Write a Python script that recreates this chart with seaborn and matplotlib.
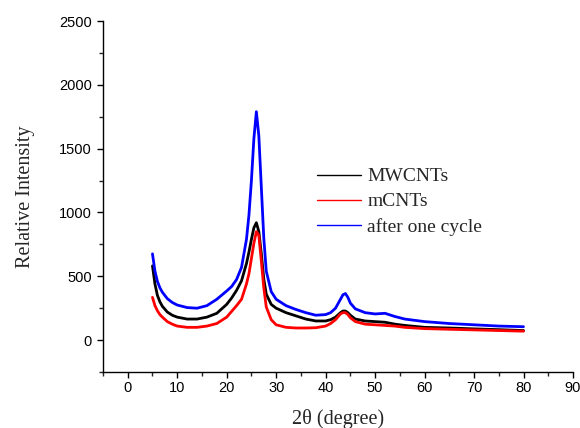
import matplotlib
matplotlib.use("Agg")
import matplotlib.pyplot as plt
import seaborn as sns
import pandas as pd
from matplotlib.ticker import MultipleLocator

two_theta = [5, 5.5, 6, 6.5, 7, 8, 9, 10, 12, 14, 16, 18, 20, 21, 22, 23, 24, 24.5, 25, 25.5,
             26, 26.5, 27, 27.5, 28, 29, 30, 32, 34, 36, 38, 40, 41, 42, 43, 43.5, 44, 44.5,
             45, 46, 48, 50, 52, 54, 56, 60, 65, 70, 75, 80]

mwcnts = [582, 440, 350, 300, 265, 220, 195, 180, 165, 165, 180, 210, 280, 330, 390, 465, 600, 690, 790, 880,
          920, 850, 680, 480, 360, 280, 250, 215, 190, 165, 150, 150, 160, 180, 215, 228, 228, 215,
          195, 165, 150, 145, 140, 125, 115, 100, 95, 88, 82, 75]

mcnts = [335, 270, 230, 200, 180, 145, 125, 110, 100, 100, 110, 130, 180, 225, 270, 320, 440, 520, 640, 760,
         850, 820, 620, 410, 260, 160, 120, 100, 95, 95, 97, 110, 130, 160, 205, 215, 215, 200,
         175, 145, 125, 120, 115, 110, 100, 90, 85, 80, 75, 70]

after_cycle = [676, 540, 460, 410, 375, 325, 295, 275, 255, 250, 270, 320, 385, 420, 475, 570, 790, 980, 1250, 1580,
               1790, 1600, 1200, 800, 540, 380, 320, 270, 240, 215, 195, 200, 215, 250, 320, 355, 365, 335,
               290, 245, 215, 205, 210, 185, 165, 145, 130, 120, 110, 105]

series_names = ["MWCNTs", "mCNTs", "after one cycle"]
series_colors = ["#000000", "#ff0000", "#0000ff"]

frames = []
for name, vals in zip(series_names, [mwcnts, mcnts, after_cycle]):
    frames.append(pd.DataFrame({"x": two_theta, "y": vals, "sample": name}))
df = pd.concat(frames, ignore_index=True)

sns.set_style("ticks")
plt.rcParams["font.family"] = ["Liberation Sans", "DejaVu Sans"]

fig = plt.figure(figsize=(5.8, 4.28), dpi=100)
ax = fig.add_axes([0.1776, 0.1308, 0.8103, 0.820])

sns.lineplot(data=df, x="x", y="y", hue="sample", hue_order=series_names,
             palette=series_colors, linewidth=2.0, ax=ax, sort=False, estimator=None)

ax.set_xlim(-5, 90)
ax.set_ylim(-250, 2500)
ax.xaxis.set_major_locator(MultipleLocator(10))
ax.xaxis.set_minor_locator(MultipleLocator(5))
ax.yaxis.set_major_locator(MultipleLocator(500))
ax.yaxis.set_minor_locator(MultipleLocator(250))
ax.tick_params(axis="both", which="major", length=4.5, width=1, direction="out", labelsize=10.5, colors="black")
ax.tick_params(axis="x", which="major", pad=2)
ax.tick_params(axis="both", which="minor", length=3, width=1, direction="out")
sns.despine(ax=ax)
for s in ["left", "bottom"]:
    ax.spines[s].set_linewidth(1)
    ax.spines[s].set_color("black")

ax.set_xlabel("2θ (degree)", family=["Liberation Serif", "DejaVu Serif"], fontsize=14.5, labelpad=10)
ax.set_ylabel("Relative Intensity", family=["Liberation Serif", "DejaVu Serif"], fontsize=14.5, labelpad=17)

leg = ax.legend(loc="upper left", bbox_to_anchor=(0.438, 0.604), frameon=False,
                prop={"family": ["Liberation Serif", "DejaVu Serif"], "size": 14},
                handlelength=2.3, handletextpad=0.3, labelspacing=0.38, borderaxespad=0)
for line in leg.get_lines():
    line.set_linewidth(1.0)

fig.savefig("out.png", dpi=100)
